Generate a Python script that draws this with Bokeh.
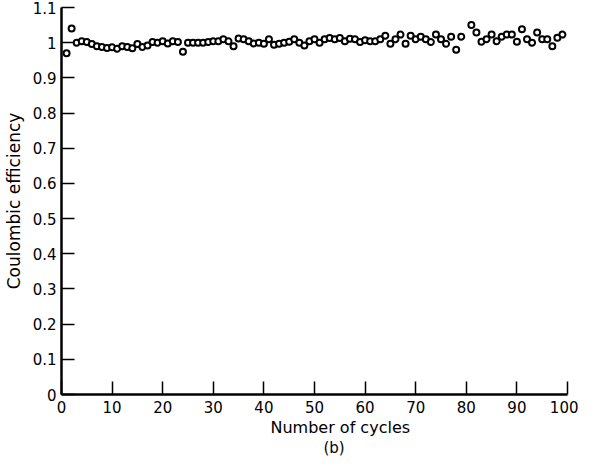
from bokeh.plotting import figure
from bokeh.models import FixedTicker, Range1d, Title
from bokeh.embed import file_html
from bokeh.resources import INLINE

# ---- data ----
cycles = [1, 2, 3, 4, 5, 6, 7, 8, 9, 10,
          11, 12, 13, 14, 15, 16, 17, 18, 19, 20,
          21, 22, 23, 24, 25, 26, 27, 28, 29, 30,
          31, 32, 33, 34, 35, 36, 37, 38, 39, 40,
          41, 42, 43, 44, 45, 46, 47, 48, 49, 50,
          51, 52, 53, 54, 55, 56, 57, 58, 59, 60,
          61, 62, 63, 64, 65, 66, 67, 68, 69, 70,
          71, 72, 73, 74, 75, 76, 77, 78, 79, 81,
          82, 83, 84, 85, 86, 87, 88, 89, 90, 91,
          92, 93, 94, 95, 96, 97, 98, 99]
efficiency = [0.970, 1.040, 1.000, 1.004, 1.002, 0.996, 0.990, 0.988, 0.985, 0.987,
              0.983, 0.990, 0.988, 0.984, 0.996, 0.988, 0.992, 1.002, 1.000, 1.004,
              0.998, 1.004, 1.002, 0.974, 1.000, 1.000, 1.000, 1.000, 1.002, 1.004,
              1.004, 1.010, 1.004, 0.990, 1.012, 1.010, 1.004, 0.998, 1.000, 0.997,
              1.010, 0.994, 0.997, 1.000, 1.003, 1.010, 1.000, 0.992, 1.004, 1.010,
              1.000, 1.010, 1.013, 1.010, 1.013, 1.004, 1.011, 1.010, 1.002, 1.007,
              1.004, 1.004, 1.010, 1.020, 0.997, 1.010, 1.023, 0.997, 1.020, 1.010,
              1.017, 1.010, 1.002, 1.023, 1.010, 0.997, 1.017, 0.980, 1.017, 1.050,
              1.029, 1.003, 1.010, 1.023, 1.004, 1.017, 1.023, 1.023, 1.003, 1.038,
              1.010, 1.000, 1.029, 1.010, 1.010, 0.990, 1.014, 1.023]

x_ticks = [0, 10, 20, 30, 40, 50, 60, 70, 80, 90, 100]
y_ticks = [0, 0.1, 0.2, 0.3, 0.4, 0.5, 0.6, 0.7, 0.8, 0.9, 1.0, 1.1]
y_tick_labels = ["0", "0.1", "0.2", "0.3", "0.4", "0.5", "0.6", "0.7", "0.8", "0.9", "1", "1.1"]
x_title = "Number of cycles"
y_title = "Coulombic efficiency"
caption = "(b)"

FONT = "DejaVu Sans"

p = figure(width=578, height=456, output_backend="svg", toolbar_location=None,
           x_range=Range1d(0, 100), y_range=Range1d(0, 1.1),
           min_border_left=60, min_border_right=11, min_border_top=7, min_border_bottom=0)
p.outline_line_color = None
p.xgrid.visible = False
p.ygrid.visible = False
p.background_fill_color = "white"
p.border_fill_color = "white"

p.scatter(cycles, efficiency, marker="circle", size=6, line_color="black",
          line_width=2, fill_color="white")

for ax in (p.xaxis[0], p.yaxis[0]):
    ax.axis_line_width = 2.5
    ax.axis_line_color = "black"
    ax.major_tick_in = 13
    ax.major_tick_out = 0
    ax.major_tick_line_width = 1.5
    ax.major_tick_line_color = "black"
    ax.minor_tick_line_color = None
    ax.major_label_text_font = FONT
    ax.major_label_text_font_size = "15px"
    ax.major_label_text_color = "black"

p.xaxis[0].ticker = FixedTicker(ticks=x_ticks)
p.xaxis[0].major_label_standoff = 6
p.yaxis[0].ticker = FixedTicker(ticks=y_ticks)
p.yaxis[0].major_label_overrides = {t: s for t, s in zip(y_ticks, y_tick_labels)}
p.yaxis[0].major_label_standoff = 5
p.yaxis[0].axis_label = y_title
p.yaxis[0].axis_label_text_font = FONT
p.yaxis[0].axis_label_text_font_style = "normal"
p.yaxis[0].axis_label_text_font_size = "17px"
p.yaxis[0].axis_label_text_color = "black"
p.yaxis[0].axis_label_standoff = 6

p.add_layout(Title(text=x_title, align="left", offset=209, standoff=0,
                   text_font=FONT, text_font_size="16px", text_font_style="normal",
                   text_color="black"), "below")
p.add_layout(Title(text=caption, align="left", offset=262, standoff=0,
                   text_font=FONT, text_font_size="15px", text_font_style="normal",
                   text_color="black"), "below")

open("out.html", "w").write(file_html(p, INLINE))
